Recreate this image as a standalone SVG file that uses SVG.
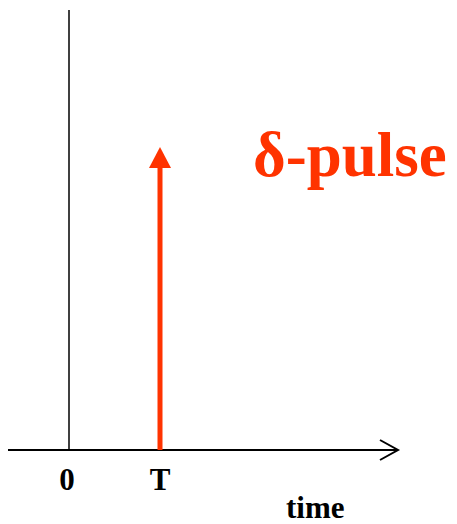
<svg xmlns="http://www.w3.org/2000/svg" width="457" height="524" viewBox="0 0 457 524">
<style>
.ax{stroke:#000;fill:none}
.lbl{font-family:"Liberation Serif","Times New Roman",serif;font-weight:bold;fill:#000}
.red{fill:#FF3300}
</style>
<rect width="457" height="524" fill="#fff"/>
<g id="axes">
<line class="ax" x1="69" y1="10" x2="69" y2="450" stroke-width="1.5"/>
<line class="ax" x1="8" y1="450" x2="397" y2="450" stroke-width="2"/>
<polyline class="ax" points="380,440 398,450 380,460" stroke-width="2"/>
</g>
<g id="pulse">
<rect class="red" x="157.5" y="165" width="5" height="285"/>
<polygon class="red" points="160,147 149,168 171,168"/>
</g>
<g id="labels">
<text class="lbl red" x="253" y="176" font-size="63">δ-pulse</text>
<text class="lbl" x="67" y="490" font-size="31" text-anchor="middle">0</text>
<text class="lbl" x="160" y="490" font-size="31" text-anchor="middle">T</text>
<text class="lbl" x="286" y="518" font-size="31">time</text>
</g>
</svg>
